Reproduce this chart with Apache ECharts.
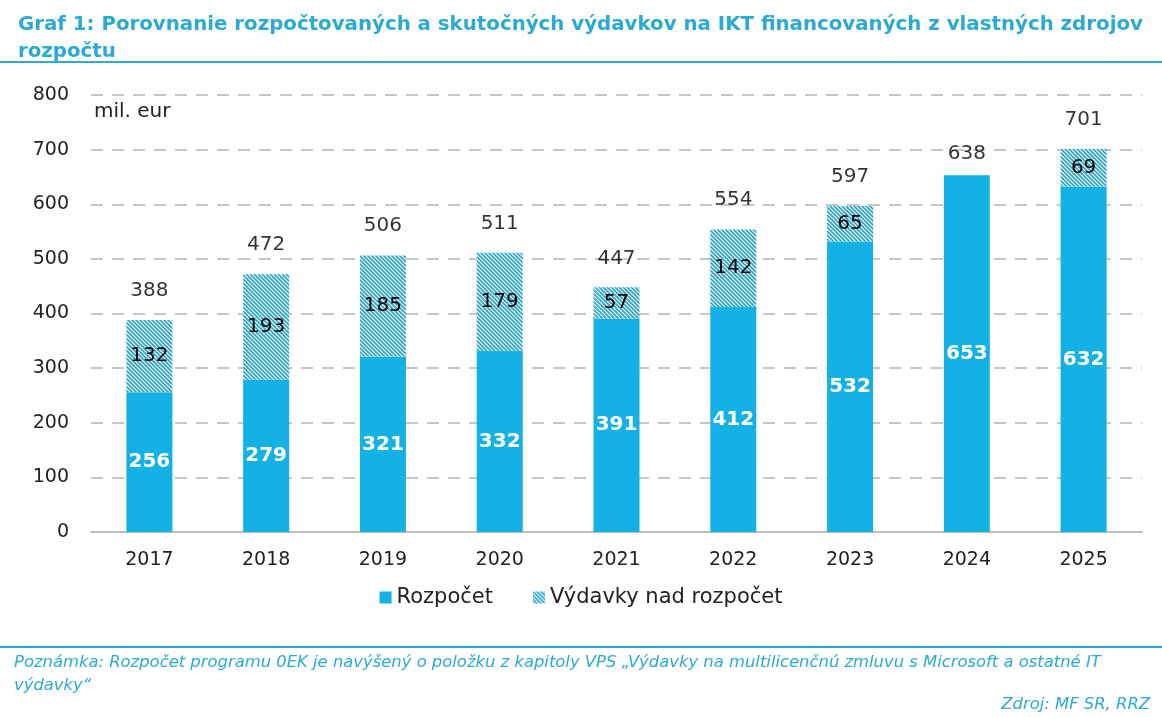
<!DOCTYPE html>
<html lang="sk">
<head>
<meta charset="utf-8">
<title>Graf 1</title>
<script src="https://cdn.jsdelivr.net/npm/echarts@6/dist/echarts.min.js"></script>
<style>
  html, body { margin: 0; padding: 0; background: #fff; }
  #chart { width: 1162px; height: 717px; }
</style>
</head>
<body>
<div id="chart"></div>
<script>
// data
var years = ['2017', '2018', '2019', '2020', '2021', '2022', '2023', '2024', '2025'];
var rozpocet = [256, 279, 321, 332, 391, 412, 532, 653, 632];
var nadRozpocet = [132, 193, 185, 179, 57, 142, 65, '-', 69];
var spolu = [388, 472, 506, 511, 447, 554, 597, 638, 701];
var yTicks = [0, 100, 200, 300, 400, 500, 600, 700, 800];

var FONT = 'DejaVu Sans';
var BLUE = '#13b1e6';
var TEAL = '#2aaad4';

// hatch pattern for the "over budget" part
function hatch() {
    var c = document.createElement('canvas');
    c.width = 4; c.height = 4;
    var g = c.getContext('2d');
    g.fillStyle = '#ffffff';
    g.fillRect(0, 0, 4, 4);
    g.strokeStyle = '#26a3cc';
    g.lineWidth = 1.6;
    g.beginPath();
    g.moveTo(-1, -1); g.lineTo(5, 5);
    g.moveTo(-1, 3); g.lineTo(1, 5);
    g.moveTo(3, -1); g.lineTo(5, 1);
    g.stroke();
    return { image: c, repeat: 'repeat' };
}

var chart = echarts.init(document.getElementById('chart'));
var option = {
    animation: false,
    textStyle: { fontFamily: FONT },
    title: {
        text: 'Graf 1: Porovnanie rozpočtovaných a skutočných výdavkov na IKT financovaných z vlastných zdrojov\nrozpočtu',
        left: 13,
        top: 6,
        textStyle: { color: TEAL, fontSize: 19.8, fontWeight: 'bold', lineHeight: 27, fontFamily: FONT }
    },
    grid: { left: 91, right: 20, top: 95, bottom: 185 },
    legend: {
        data: ['Rozpočet', 'Výdavky nad rozpočet'],
        icon: 'rect',
        bottom: 104,
        left: 'center',
        itemWidth: 12,
        itemHeight: 12,
        itemGap: 40,
        textStyle: { fontSize: 21, color: '#222', fontFamily: FONT }
    },
    xAxis: {
        type: 'category',
        data: years,
        axisLine: { lineStyle: { color: '#bdbdbd', width: 2 } },
        axisTick: { show: false },
        axisLabel: { fontSize: 19, color: '#222', margin: 19 }
    },
    yAxis: {
        type: 'value',
        min: yTicks[0],
        max: yTicks[yTicks.length - 1],
        interval: 100,
        axisLine: { show: false },
        axisTick: { show: false },
        axisLabel: { fontSize: 19, color: '#222', margin: 22 },
        splitLine: { lineStyle: { color: '#c6c6c6', width: 2, type: [12, 9] } }
    },
    graphic: [
        { type: 'rect', shape: { x: 0, y: 61, width: 1162, height: 2 }, style: { fill: TEAL } },
        { type: 'text', left: 94, top: 102, style: { text: 'mil. eur', font: '20px "DejaVu Sans"', fill: '#222' } },
        { type: 'rect', shape: { x: 0, y: 646, width: 1162, height: 2 }, style: { fill: TEAL } },
        { type: 'text', left: 14, top: 651, style: {
            text: 'Poznámka: Rozpočet programu 0EK je navýšený o položku z kapitoly VPS „Výdavky na multilicenčnú zmluvu s Microsoft a ostatné IT\nvýdavky“',
            font: 'italic 16.4px "DejaVu Sans"', fill: TEAL, lineHeight: 23 } },
        { type: 'text', right: 12, top: 697, style: {
            text: 'Zdroj: MF SR, RRZ', font: 'italic 16.4px "DejaVu Sans"', fill: TEAL } }
    ],
    series: [
        {
            name: 'Rozpočet',
            type: 'bar',
            stack: 'total',
            barWidth: 46,
            data: rozpocet,
            itemStyle: { color: BLUE },
            label: { show: true, position: 'inside', color: '#fff', fontSize: 20, fontWeight: 'bold', fontFamily: FONT }
        },
        {
            name: 'Výdavky nad rozpočet',
            type: 'bar',
            stack: 'total',
            barWidth: 46,
            data: nadRozpocet,
            itemStyle: { color: hatch() },
            label: { show: true, position: 'inside', color: '#000', fontSize: 20, fontFamily: FONT }
        },
        {
            name: 'Spolu',
            type: 'scatter',
            data: spolu,
            symbolSize: 1,
            itemStyle: { color: 'rgba(0,0,0,0)' },
            label: { show: true, position: 'top', distance: 19, color: '#000', fontSize: 20, fontFamily: FONT },
            z: 5
        }
    ]
};
chart.setOption(option);
</script>
</body>
</html>
